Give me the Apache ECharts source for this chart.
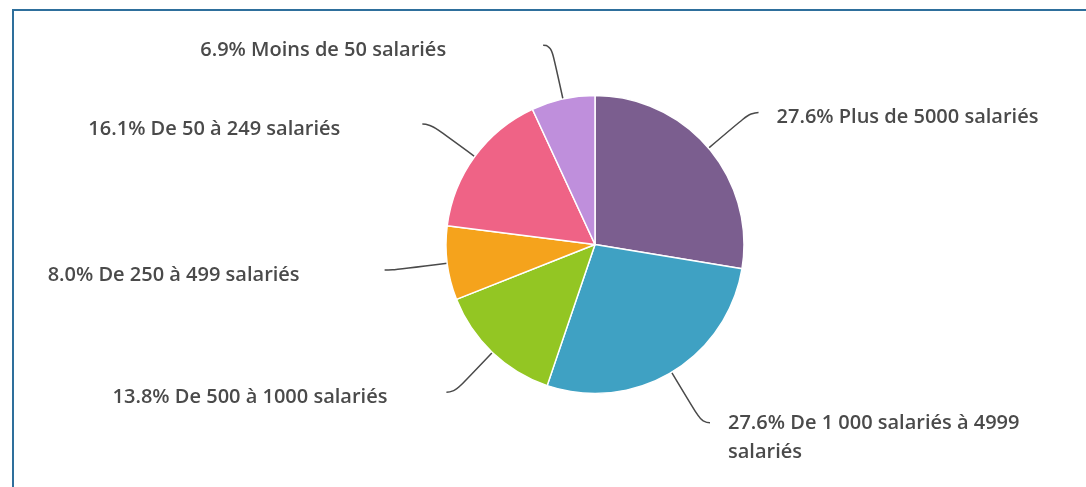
<!DOCTYPE html>
<html>
<head>
<meta charset="utf-8">
<script src="https://cdn.jsdelivr.net/npm/echarts@6/dist/echarts.min.js"></script>
<style>
  html, body { margin: 0; padding: 0; background: #fff; }
  #frame { position: absolute; left: 12px; top: 9px; width: 1100px; height: 500px;
           border-left: 2px solid #2e6f9c; border-top: 2px solid #2e6f9c; }
  #main { position: absolute; left: 0; top: 0; width: 1086px; height: 487px; }
</style>
</head>
<body>
<div id="frame"></div>
<div id="main"></div>
<script>
// tranches d'effectif, dans l'ordre horaire depuis midi
const categories = [
  'Plus de 5000 salariés',
  'De 1 000 salariés à 4999 salariés',
  'De 500 à 1000 salariés',
  'De 250 à 499 salariés',
  'De 50 à 249 salariés',
  'Moins de 50 salariés'
];
const percents = [27.6, 27.6, 13.8, 8.0, 16.1, 6.9];
const colors = ['#7b5e8f', '#3fa1c3', '#93c623', '#f5a31c', '#ef6386', '#bf8fdc'];
// écart entre le bout du trait et le texte
const gaps = [18, 18, 59, 85, 82, 97];

const myChart = echarts.init(document.getElementById('main'));

const data = categories.map((name, i) => ({
  name,
  value: percents[i],
  itemStyle: { color: colors[i] },
  // ligne vide en tête pour descendre un peu le texte sous le bout du trait
  label: { distanceToLabelLine: gaps[i], lineHeight: i === 1 ? 29 : 10 },
  labelLine: { length: i === 1 ? 59 : 55 }
}));

const option = {
  animation: false,
  series: [
    {
      type: 'pie',
      center: [595, 244.5],
      radius: 149,
      startAngle: 90,
      clockwise: true,
      avoidLabelOverlap: false,
      itemStyle: { borderColor: '#fff', borderWidth: 1.5 },
      label: {
        show: true,
        color: '#4a4a4a',
        fontFamily: 'Open Sans',
        fontWeight: 600,
        fontSize: 20,
        formatter: p => {
          const txt = p.value.toFixed(1) + '% ' + p.name;
          if (p.dataIndex === 1) {
            // le libellé long passe sur deux lignes
            const cut = txt.lastIndexOf(' ');
            return '\n' + txt.slice(0, cut) + '\n' + txt.slice(cut + 1);
          }
          return '\n' + txt;
        }
      },
      labelLine: {
        show: true,
        length: 55,
        length2: 8,
        smooth: 0.6,
        lineStyle: { color: '#4a4a4a', width: 1.5 }
      },
      data
    }
  ]
};
myChart.setOption(option);
</script>
</body>
</html>
